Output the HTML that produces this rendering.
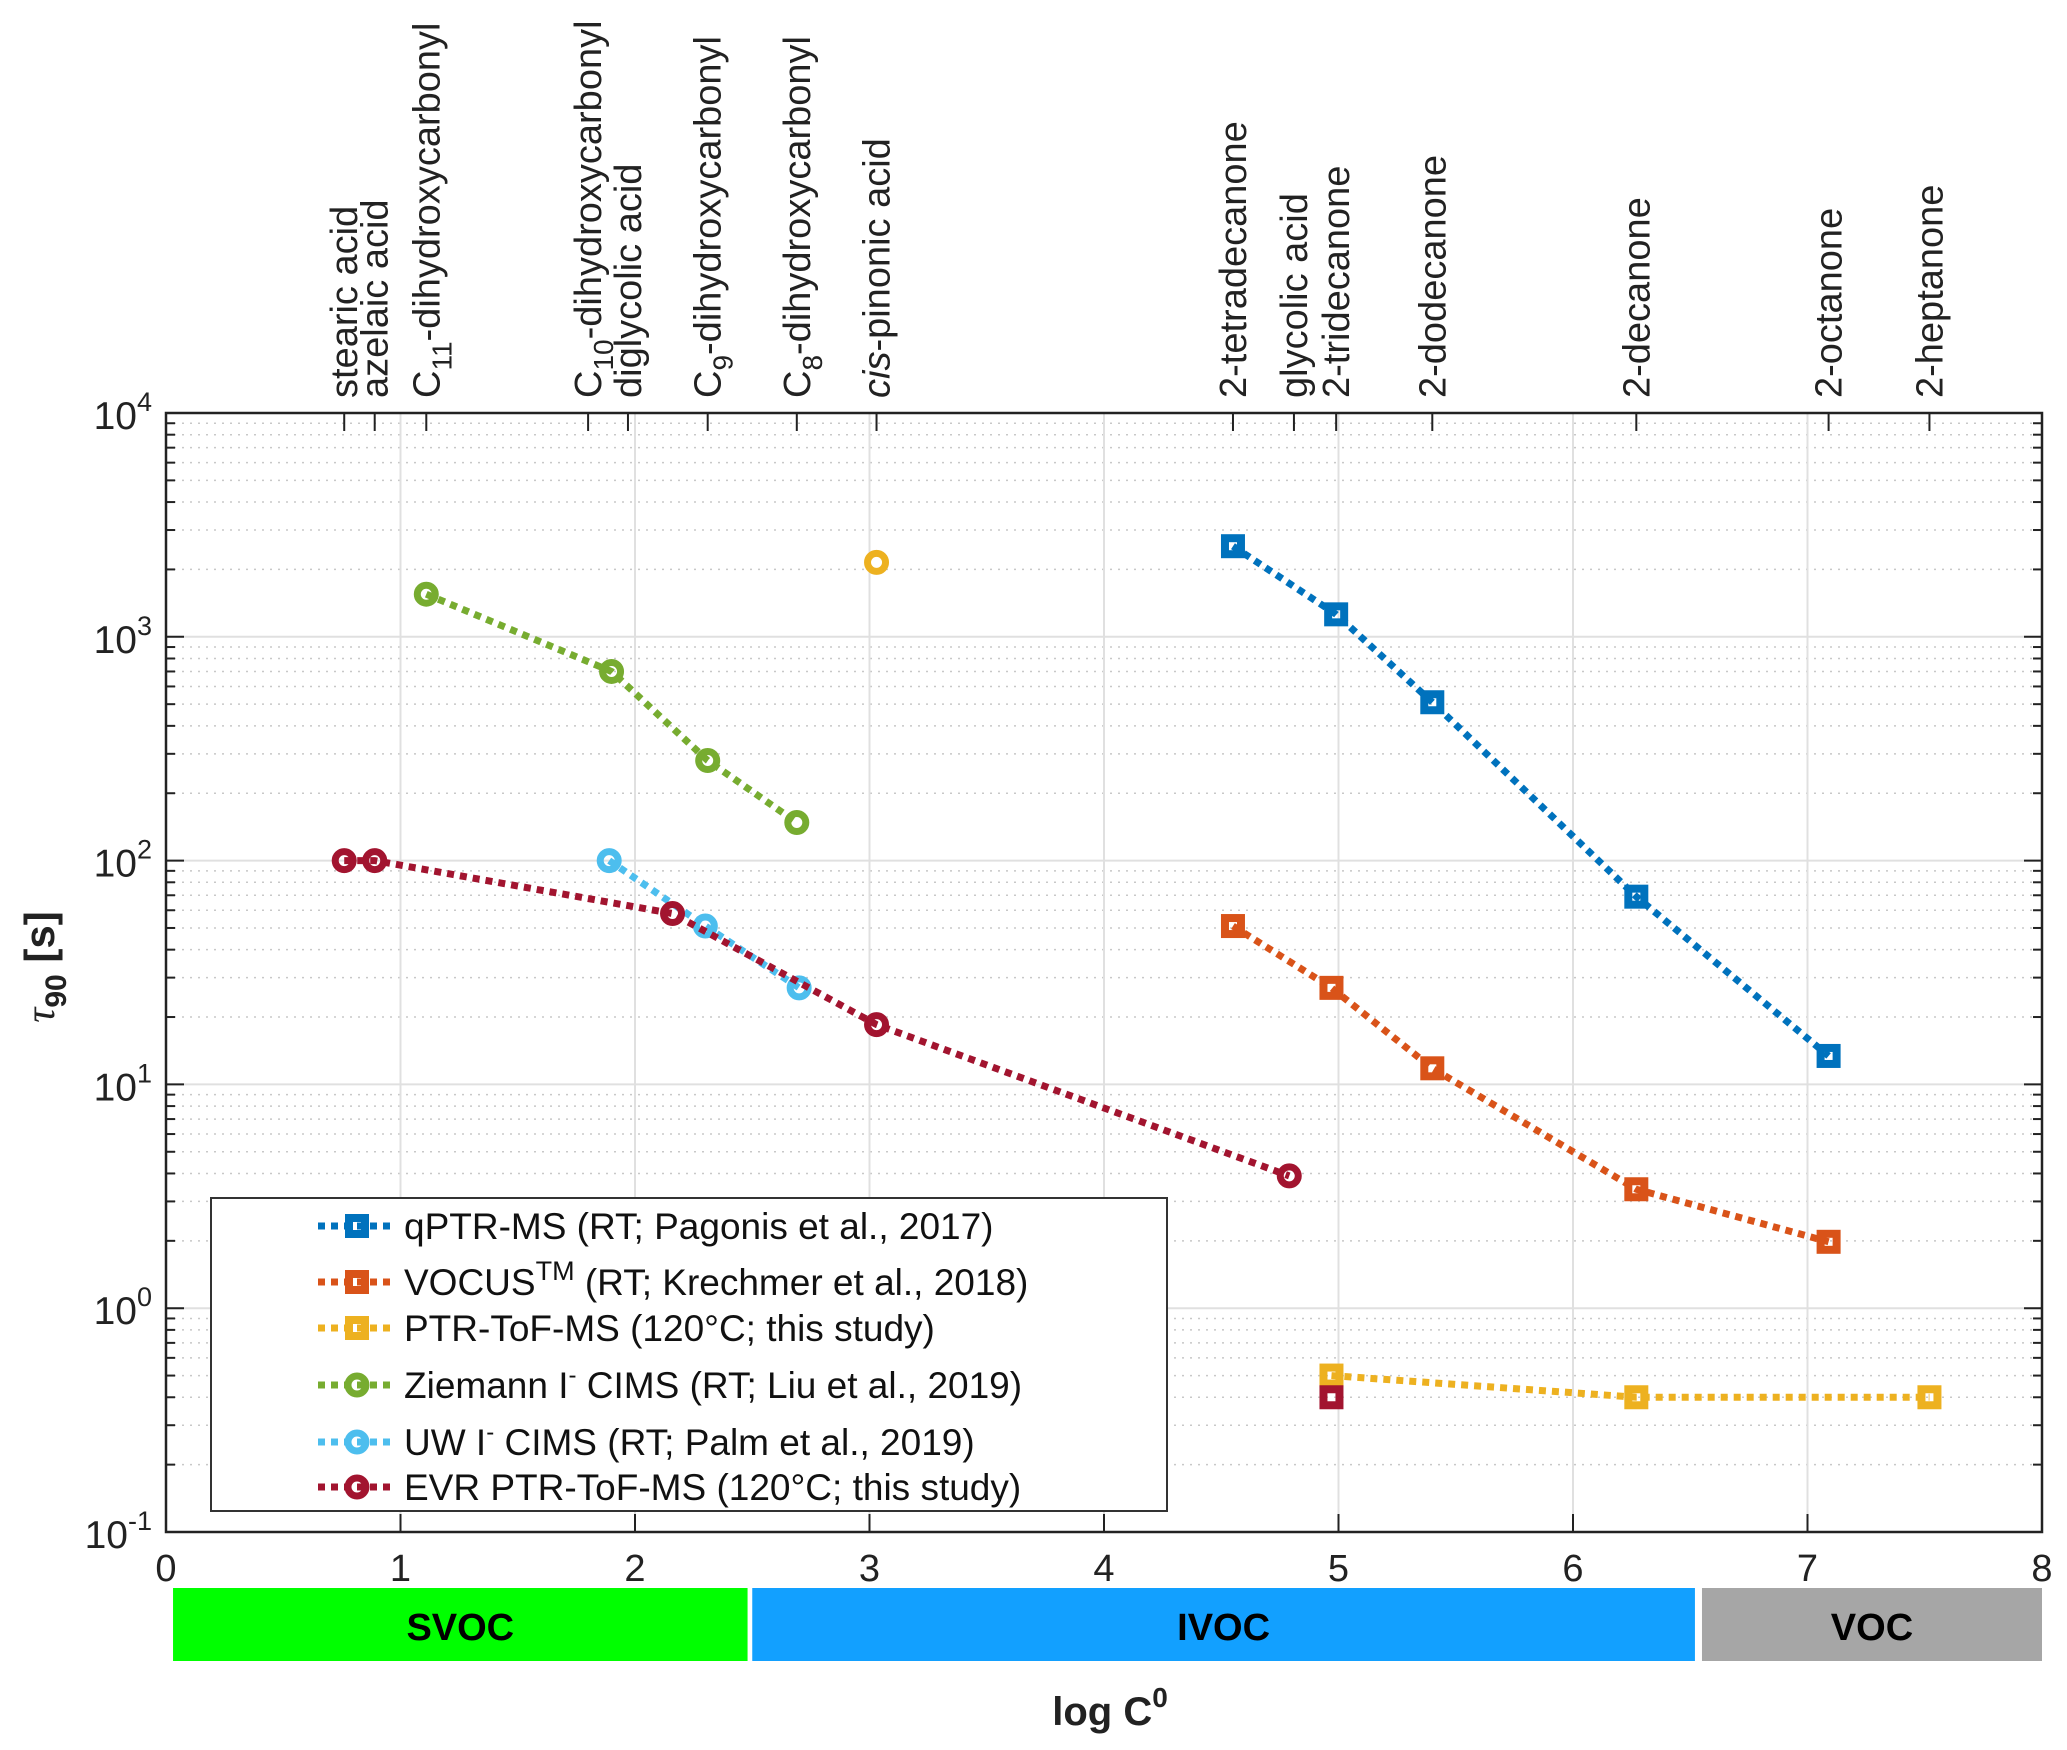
<!DOCTYPE html>
<html><head><meta charset="utf-8"><style>
html,body{margin:0;padding:0;background:#fff}
svg{display:block;font-family:"Liberation Sans",Arial,sans-serif}
</style></head><body>
<svg id="chart" width="2067" height="1750" viewBox="0 0 2067 1750" xmlns="http://www.w3.org/2000/svg">
<g id="grid"></g>
<g id="series"></g>
<g id="axes"></g>
<g id="toplabels"></g>
<g id="legend"></g>
<g id="bands"></g>
</svg>
<script>
const xTicks=[0,1,2,3,4,5,6,7,8];
const yDecades=[-1,0,1,2,3,4];
const qptrX=[4.55,4.99,5.40,6.27,7.09];
const qptrY=[2540,1260,510,69,13.4];
const vocusX=[4.55,4.97,5.40,6.27,7.09];
const vocusY=[51,27,11.8,3.4,1.98];
const ptrX=[4.97,6.27,7.52];
const ptrY=[0.50,0.40,0.40];
const ziemX=[1.11,1.90,2.31,2.69];
const ziemY=[1550,700,280,148];
const uwX=[1.89,2.30,2.70];
const uwY=[100,51,27];
const evrX=[0.76,0.89,2.16,3.03,4.79];
const evrY=[100,100,58,18.5,3.9];
const evrSqX=[4.97];
const evrSqY=[0.40];
const pinX=[3.03];
const pinY=[2150];
const compoundNames=["stearic acid","azelaic acid","C11-dihydroxycarbonyl","C10-dihydroxycarbonyl","diglycolic acid","C9-dihydroxycarbonyl","C8-dihydroxycarbonyl","cis-pinonic acid","2-tetradecanone","glycolic acid","2-tridecanone","2-dodecanone","2-decanone","2-octanone","2-heptanone"];
const compoundX=[0.76,0.89,1.11,1.80,1.97,2.31,2.69,3.03,4.55,4.81,4.99,5.40,6.27,7.09,7.52];
const legendLabels=["qPTR-MS (RT; Pagonis et al., 2017)","VOCUS","PTR-ToF-MS (120°C; this study)","Ziemann I","UW I","EVR PTR-ToF-MS (120°C; this study)"];

const L=166,R=2042,T=413,B=1532;
const X=v=>L+(R-L)*v/8;
const Y=v=>T+(B-T)*(4-Math.log10(v))/5;
const NS="http://www.w3.org/2000/svg";
function mk(tag,attrs,parent,text){const e=document.createElementNS(NS,tag);for(const k in attrs)e.setAttribute(k,attrs[k]);if(text!==undefined)e.textContent=text;parent.appendChild(e);return e;}
const grid=document.getElementById('grid'),axes=document.getElementById('axes'),ser=document.getElementById('series');

for(const d of yDecades){
  if(d<4){for(let m=2;m<=9;m++){const y=Y(m*Math.pow(10,d));
    const g=mk('line',{x1:L,x2:R,y1:y,y2:y,stroke:'#c8c8c8','stroke-width':1.5,'stroke-dasharray':'2 6'},grid);
    
    const t1=mk('line',{x1:L,x2:L+9,y1:y,y2:y,stroke:'#222','stroke-width':2},axes);
    
    const t2=mk('line',{x1:R,x2:R-9,y1:y,y2:y,stroke:'#222','stroke-width':2},axes);
    }}
  const y=Y(Math.pow(10,d));
  const g=mk('line',{x1:L,x2:R,y1:y,y2:y,stroke:'#e0e0e0','stroke-width':2},grid);
  
  const t=mk('line',{x1:L,x2:L+18,y1:y,y2:y,stroke:'#222','stroke-width':2},axes);
  
  const t2=mk('line',{x1:R,x2:R-18,y1:y,y2:y,stroke:'#222','stroke-width':2},axes);
  
  const lab=mk('text',{x:152,y:y+16,'text-anchor':'end','font-size':39,fill:'#222'},axes);
  
  lab.appendChild(document.createTextNode('10'));
  mk('tspan',{dy:-18,'font-size':27},lab,String(d));
}
for(const v of xTicks){const x=X(v);
  if(v>0&&v<8){const g=mk('line',{x1:x,x2:x,y1:T,y2:B,stroke:'#e0e0e0','stroke-width':2},grid);
    }
  const t=mk('line',{x1:x,x2:x,y1:B,y2:B-18,stroke:'#222','stroke-width':2},axes);
  
  const lab=mk('text',{x:x,y:1581,'text-anchor':'middle','font-size':38,fill:'#222'},axes,String(v));
  
}
const box=mk('rect',{x:L,y:T,width:R-L,height:B-T,fill:'none',stroke:'#222','stroke-width':2.5},axes);

const yt=mk('text',{x:0,y:0,transform:'translate(54,967) rotate(-90)','text-anchor':'middle','font-size':42,'font-weight':'bold',fill:'#222'},axes);

mk('tspan',{'font-family':'"Liberation Serif",serif','font-style':'italic','font-weight':'normal'},yt,'τ');
mk('tspan',{dy:12,'font-size':30},yt,'90');
mk('tspan',{dy:-12},yt,' [s]');
const xt=mk('text',{x:1110,y:1725,'text-anchor':'middle','font-size':40,'font-weight':'bold',fill:'#222'},axes,'log C');

mk('tspan',{dy:-18,'font-size':28},xt,'0');

const tl=document.getElementById('toplabels');
compoundNames.forEach((n,i)=>{const x=X(compoundX[i]);
  const tk=mk('line',{x1:x,x2:x,y1:T,y2:T+18,stroke:'#222','stroke-width':2},tl);
  
  const t=mk('text',{x:0,y:0,transform:`translate(${x+13},398) rotate(-90)`,'font-size':38,fill:'#222'},tl);
  
  const m=n.match(/^C(\d+)(-.*)$/);
  if(m){t.appendChild(document.createTextNode('C'));mk('tspan',{dy:12,'font-size':28},t,m[1]);mk('tspan',{dy:-12},t,m[2]);}
  else if(n.startsWith('cis')){mk('tspan',{'font-style':'italic'},t,'cis');t.appendChild(document.createTextNode(n.slice(3)));}
  else t.textContent=n;
});

function series(xs,ys,color,marker,name){
  const g=mk('g',{},ser);
  if(xs.length>1){const p=mk('polyline',{points:xs.map((x,i)=>X(x)+','+Y(ys[i])).join(' '),fill:'none',stroke:color,'stroke-width':7,'stroke-dasharray':'7 6'},g);
    }
  xs.forEach((x,i)=>drawMarker(g,X(x),Y(ys[i]),color,marker,name));
}
function drawMarker(g,cx,cy,color,marker,name){
  let e;
  if(marker==='s'){e=mk('rect',{x:cx-8,y:cy-8,width:16,height:16,fill:'none',stroke:color,'stroke-width':8},g);}
  else{e=mk('circle',{cx:cx,cy:cy,r:9,fill:'none',stroke:color,'stroke-width':7},g);}
  
  
}
series(qptrX,qptrY,'#0072BD','s','qptr-ms');
series(vocusX,vocusY,'#D95319','s','vocus');
series(ptrX,ptrY,'#EDB120','s','ptr-tof-ms');
series(ziemX,ziemY,'#77AC30','o','ziemann-cims');
series(uwX,uwY,'#4DBEEE','o','uw-cims');
series(evrX,evrY,'#A2142F','o','evr-ptr-tof-ms');
series(evrSqX,evrSqY,'#A2142F','s','evr-square');
series(pinX,pinY,'#EDB120','o','cis-pinonic-point');

const lg=document.getElementById('legend');
const lb=mk('rect',{x:211,y:1198,width:956,height:313,fill:'#fff',stroke:'#333','stroke-width':2},lg);

const lcol=['#0072BD','#D95319','#EDB120','#77AC30','#4DBEEE','#A2142F'];
const lmk=['s','s','s','o','o','o'];
const ly=[1226,1282,1328,1385,1442,1487];
legendLabels.forEach((lab,i)=>{
  const g=mk('g',{},lg);
  const ln=mk('line',{x1:318,x2:394,y1:ly[i],y2:ly[i],stroke:lcol[i],'stroke-width':7,'stroke-dasharray':'7 6'},g);
  
  drawMarker(g,357,ly[i],lcol[i],lmk[i],'legend');
  const t=mk('text',{x:404,y:ly[i]+13,'font-size':37,fill:'#111'},g);
  
  if(i===1){t.appendChild(document.createTextNode('VOCUS'));mk('tspan',{dy:-15,'font-size':27},t,'TM');mk('tspan',{dy:15},t,' (RT; Krechmer et al., 2018)');}
  else if(i===3){t.appendChild(document.createTextNode('Ziemann I'));mk('tspan',{dy:-15,'font-size':24},t,'-');mk('tspan',{dy:15},t,' CIMS (RT; Liu et al., 2019)');}
  else if(i===4){t.appendChild(document.createTextNode('UW I'));mk('tspan',{dy:-15,'font-size':24},t,'-');mk('tspan',{dy:15},t,' CIMS (RT; Palm et al., 2019)');}
  else t.textContent=lab;
});

const bd=document.getElementById('bands');
const bandN=['SVOC','IVOC','VOC'];
const bandS=[0.03,2.5,6.55];
const bandE=[2.48,6.52,8];
const bandC=['#00ff00','#12a0ff','#a6a6a6'];
bandN.forEach((n,i)=>{
  const r=mk('rect',{x:X(bandS[i]),y:1588,width:X(bandE[i])-X(bandS[i]),height:73,fill:bandC[i]},bd);
  
  const t=mk('text',{x:(X(bandS[i])+X(bandE[i]))/2,y:1640,'text-anchor':'middle','font-size':38,'font-weight':'bold',fill:'#000'},bd,n);
  
});
</script>
</body></html>
